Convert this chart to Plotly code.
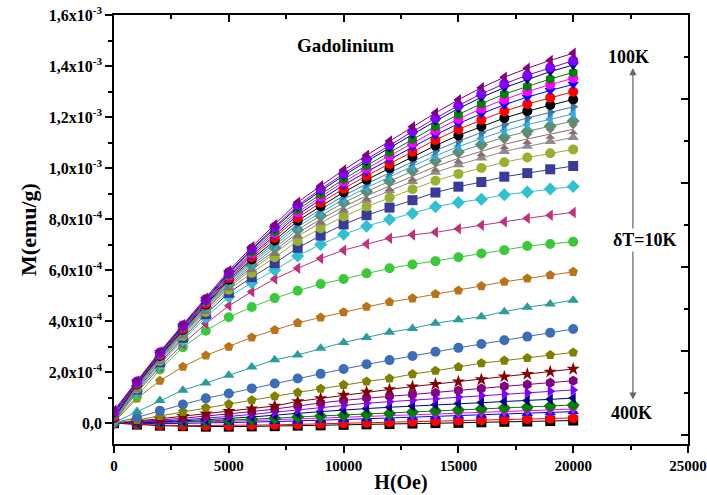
import plotly.graph_objects as go

# Applied field (Oe)
field_oe = [0, 1000, 2000, 3000, 4000, 5000, 6000, 7000, 8000, 9000, 10000,
            11000, 12000, 13000, 14000, 15000, 16000, 17000, 18000, 19000, 20000]

# Magnetization, in units of 1e-4 emu/g, one list per temperature
m_100K = [0.50, 1.65, 2.80, 3.86, 4.90, 5.97, 6.91, 7.78, 8.66, 9.30, 9.92, 10.50, 11.06, 11.62, 12.16, 12.68, 13.15, 13.56, 13.91, 14.22, 14.50]
m_110K = [0.45, 1.63, 2.77, 3.83, 4.86, 5.91, 6.83, 7.68, 8.54, 9.17, 9.78, 10.34, 10.89, 11.43, 11.95, 12.45, 12.91, 13.30, 13.64, 13.94, 14.21]
m_120K = [0.40, 1.62, 2.76, 3.81, 4.83, 5.88, 6.79, 7.62, 8.47, 9.10, 9.70, 10.26, 10.79, 11.32, 11.84, 12.33, 12.77, 13.15, 13.48, 13.78, 14.04]
m_130K = [0.35, 1.59, 2.73, 3.77, 4.79, 5.82, 6.71, 7.52, 8.36, 8.97, 9.56, 10.10, 10.62, 11.13, 11.63, 12.10, 12.52, 12.90, 13.21, 13.49, 13.75]
m_140K = [0.30, 1.58, 2.71, 3.75, 4.76, 5.78, 6.65, 7.45, 8.26, 8.87, 9.45, 9.98, 10.48, 10.98, 11.47, 11.92, 12.33, 12.69, 13.00, 13.27, 13.52]
m_150K = [0.27, 1.56, 2.68, 3.72, 4.73, 5.73, 6.58, 7.36, 8.17, 8.76, 9.33, 9.85, 10.34, 10.82, 11.30, 11.74, 12.13, 12.48, 12.78, 13.04, 13.28]
m_160K = [0.24, 1.53, 2.66, 3.68, 4.68, 5.68, 6.50, 7.27, 8.05, 8.64, 9.19, 9.70, 10.17, 10.64, 11.10, 11.52, 11.89, 12.23, 12.51, 12.76, 12.99]
m_170K = [0.20, 1.51, 2.63, 3.65, 4.64, 5.62, 6.42, 7.16, 7.93, 8.50, 9.05, 9.54, 9.99, 10.44, 10.88, 11.28, 11.63, 11.96, 12.23, 12.47, 12.69]
m_180K = [0.18, 1.49, 2.60, 3.62, 4.60, 5.56, 6.34, 7.06, 7.81, 8.38, 8.91, 9.38, 9.82, 10.25, 10.68, 11.06, 11.39, 11.71, 11.96, 12.19, 12.40]
m_190K = [0.15, 1.47, 2.57, 3.58, 4.56, 5.51, 6.27, 6.97, 7.70, 8.25, 8.77, 9.23, 9.66, 10.07, 10.48, 10.84, 11.16, 11.46, 11.70, 11.92, 12.12]
m_200K = [0.13, 1.45, 2.55, 3.55, 4.52, 5.45, 6.19, 6.87, 7.58, 8.13, 8.64, 9.08, 9.49, 9.89, 10.28, 10.63, 10.92, 11.21, 11.44, 11.65, 11.84]
m_210K = [0.12, 1.42, 2.52, 3.51, 4.47, 5.39, 6.11, 6.76, 7.46, 7.99, 8.48, 8.91, 9.30, 9.68, 10.06, 10.38, 10.66, 10.93, 11.14, 11.34, 11.52]
m_220K = [0.10, 1.40, 2.48, 3.47, 4.43, 5.33, 6.02, 6.66, 7.33, 7.85, 8.33, 8.74, 9.11, 9.47, 9.83, 10.13, 10.39, 10.65, 10.85, 11.04, 11.20]
m_230K = [0.10, 1.36, 2.44, 3.42, 4.36, 5.23, 5.89, 6.50, 7.14, 7.64, 8.10, 8.49, 8.84, 9.17, 9.50, 9.77, 10.00, 10.23, 10.41, 10.58, 10.73]
m_240K = [0.10, 1.31, 2.38, 3.34, 4.27, 5.11, 5.72, 6.27, 6.87, 7.35, 7.79, 8.15, 8.45, 8.74, 9.04, 9.27, 9.45, 9.66, 9.80, 9.95, 10.08]
m_250K = [0.08, 1.25, 2.30, 3.25, 4.15, 4.95, 5.50, 6.00, 6.55, 7.00, 7.40, 7.72, 7.98, 8.22, 8.48, 8.65, 8.78, 8.95, 9.06, 9.18, 9.28]
m_260K = [0.07, 1.20, 2.20, 3.10, 3.90, 4.60, 5.15, 5.65, 6.07, 6.45, 6.78, 7.02, 7.25, 7.38, 7.48, 7.62, 7.76, 7.89, 8.03, 8.15, 8.26]
m_270K = [0.05, 1.05, 2.10, 2.97, 3.62, 4.15, 4.55, 4.90, 5.19, 5.45, 5.65, 5.87, 6.07, 6.22, 6.35, 6.50, 6.65, 6.78, 6.94, 7.02, 7.11]
m_280K = [0.03, 0.97, 1.66, 2.21, 2.65, 2.99, 3.36, 3.65, 3.93, 4.14, 4.35, 4.56, 4.75, 4.89, 5.06, 5.20, 5.37, 5.54, 5.67, 5.80, 5.93]
m_290K = [0.02, 0.45, 0.89, 1.29, 1.57, 1.88, 2.20, 2.48, 2.67, 2.93, 3.16, 3.36, 3.56, 3.71, 3.91, 4.05, 4.17, 4.37, 4.54, 4.67, 4.82]
m_300K = [0.01, 0.22, 0.48, 0.73, 0.97, 1.16, 1.36, 1.55, 1.75, 1.93, 2.12, 2.31, 2.47, 2.63, 2.80, 2.95, 3.10, 3.25, 3.39, 3.54, 3.69]
m_310K = [0.00, 0.12, 0.28, 0.44, 0.60, 0.75, 0.90, 1.05, 1.20, 1.35, 1.50, 1.63, 1.75, 1.92, 2.05, 2.20, 2.35, 2.45, 2.55, 2.67, 2.77]
m_320K = [0.00, 0.08, 0.17, 0.27, 0.37, 0.47, 0.57, 0.67, 0.85, 0.97, 1.10, 1.22, 1.32, 1.43, 1.53, 1.62, 1.71, 1.82, 1.92, 2.01, 2.12]
m_330K = [0.00, 0.05, 0.12, 0.19, 0.27, 0.35, 0.45, 0.55, 0.68, 0.79, 0.89, 0.98, 1.05, 1.12, 1.19, 1.28, 1.36, 1.44, 1.51, 1.58, 1.66]
m_340K = [0.00, 0.03, 0.08, 0.13, 0.19, 0.26, 0.34, 0.43, 0.53, 0.62, 0.70, 0.78, 0.84, 0.90, 0.95, 1.02, 1.08, 1.14, 1.19, 1.25, 1.30]
m_350K = [0.00, 0.02, 0.05, 0.09, 0.13, 0.18, 0.24, 0.30, 0.38, 0.45, 0.52, 0.57, 0.62, 0.67, 0.72, 0.77, 0.81, 0.85, 0.89, 0.93, 0.98]
m_360K = [0.00, 0.01, 0.03, 0.05, 0.08, 0.11, 0.15, 0.19, 0.24, 0.28, 0.31, 0.34, 0.38, 0.43, 0.48, 0.52, 0.56, 0.60, 0.63, 0.67, 0.71]
m_370K = [0.00, 0.01, 0.02, 0.03, 0.05, 0.07, 0.10, 0.13, 0.16, 0.19, 0.22, 0.25, 0.28, 0.31, 0.34, 0.37, 0.41, 0.44, 0.47, 0.51, 0.55]
m_380K = [0.00, -0.02, -0.02, -0.01, 0.00, 0.02, 0.04, 0.06, 0.08, 0.11, 0.14, 0.17, 0.20, 0.23, 0.26, 0.29, 0.32, 0.35, 0.38, 0.41, 0.45]
m_390K = [0.00, -0.05, -0.08, -0.10, -0.10, -0.10, -0.08, -0.07, -0.05, -0.03, -0.01, 0.01, 0.03, 0.05, 0.07, 0.09, 0.11, 0.13, 0.15, 0.17, 0.20]
m_400K = [0.00, -0.06, -0.10, -0.12, -0.14, -0.14, -0.13, -0.12, -0.10, -0.09, -0.07, -0.05, -0.04, -0.02, 0.00, 0.01, 0.03, 0.05, 0.06, 0.08, 0.10]

M_UNIT = 1e-4

temperatures = [400, 390, 380, 370, 360, 350, 340, 330, 320, 310, 300, 290, 280, 270, 260,
                250, 240, 230, 220, 210, 200, 190, 180, 170, 160, 150, 140, 130, 120, 110, 100]
series = [m_400K, m_390K, m_380K, m_370K, m_360K, m_350K, m_340K, m_330K, m_320K, m_310K,
          m_300K, m_290K, m_280K, m_270K, m_260K, m_250K, m_240K, m_230K, m_220K, m_210K,
          m_200K, m_190K, m_180K, m_170K, m_160K, m_150K, m_140K, m_130K, m_120K, m_110K, m_100K]

# tick labels
x_tickvals = [0, 5000, 10000, 15000, 20000, 25000]
x_ticktext = ["0", "5000", "10000", "15000", "20000", "25000"]
y_tickvals = [0, 2e-4, 4e-4, 6e-4, 8e-4, 1.0e-3, 1.2e-3, 1.4e-3, 1.6e-3]
y_ticktext = ["0,0", "2,0x10<sup>-4</sup>", "4,0x10<sup>-4</sup>", "6,0x10<sup>-4</sup>",
              "8,0x10<sup>-4</sup>", "1,0x10<sup>-3</sup>", "1,2x10<sup>-3</sup>",
              "1,4x10<sup>-3</sup>", "1,6x10<sup>-3</sup>"]

# styles (in the same order as temperatures)
colors = ["#000000", "#FF0000", "#0000FF", "#FF00FF", "#008000", "#000080", "#8000FF", "#800080",
          "#800000", "#808000", "#3D6EB4", "#2A9D9A", "#B8741A", "#3CC83C", "#C0307A",
          "#30C0D0", "#3A3A98", "#9AB030", "#8C8C8C", "#8C6E6E", "#5E8E70", "#38A8D8",
          "#3C78A8", "#000000", "#FF0000", "#0000FF", "#FF00FF", "#008000", "#000080",
          "#8000FF", "#800080"]
symbols = ["square", "circle", "triangle-up", "triangle-down", "diamond", "triangle-left",
           "triangle-right", "hexagon", "star", "pentagon", "circle", "triangle-up", "pentagon",
           "circle", "triangle-left", "diamond", "square", "circle", "triangle-up", "hourglass",
           "diamond", "triangle-left", "triangle-right", "circle", "circle", "triangle-down",
           "circle", "hexagon", "triangle-down", "circle", "triangle-left"]

FONT = "Liberation Serif"

fig = go.Figure()
for T, vals, c, s in zip(temperatures, series, colors, symbols):
    fig.add_trace(go.Scatter(
        x=field_oe, y=[v * M_UNIT for v in vals], mode="lines+markers",
        name=f"{T}K", line=dict(color=c, width=1),
        marker=dict(symbol=s, size=10, color=c, line=dict(width=0)),
        showlegend=False, xaxis="x", yaxis="y"))

# invisible trace for the mirrored (top/right) axes
fig.add_trace(go.Scatter(x=[None], y=[None], xaxis="x2", yaxis="y2",
                         showlegend=False, hoverinfo="skip"))

fig.update_layout(
    width=707, height=495,
    margin=dict(l=114, r=19, t=15, b=51, autoexpand=False),
    paper_bgcolor="white", plot_bgcolor="white",
    font=dict(family=FONT, color="black"),
    xaxis=dict(range=[0, 25000], tickmode="array", tickvals=x_tickvals,
               ticktext=["<b>" + t + "</b>" for t in x_ticktext],
               ticks="outside", ticklen=7, tickwidth=1.5, tickcolor="black",
               minor=dict(ticks="outside", tickmode="linear", tick0=0, dtick=2500,
                          ticklen=4, tickwidth=1.5, tickcolor="black"),
               showline=True, linecolor="black", linewidth=1.5,
               showgrid=False, zeroline=False, automargin=False,
               tickfont=dict(family=FONT, size=15, color="black"),
               title=dict(text="<b>H(Oe)</b>", font=dict(family=FONT, size=20), standoff=2)),
    yaxis=dict(range=[-0.82e-4, 1.6e-3], tickmode="array", tickvals=y_tickvals,
               ticktext=["<b>" + t + "</b>" for t in y_ticktext],
               ticks="outside", ticklen=7, tickwidth=1.5, tickcolor="black",
               minor=dict(ticks="outside", tickmode="linear", tick0=0, dtick=1e-4,
                          ticklen=4, tickwidth=1.5, tickcolor="black"),
               showline=True, linecolor="black", linewidth=1.5,
               showgrid=False, zeroline=False, automargin=False,
               tickfont=dict(family=FONT, size=16, color="black"),
               title=dict(text="<b>M(emu/g)</b>", font=dict(family=FONT, size=22), standoff=6)),
    xaxis2=dict(overlaying="x", side="top", range=[0, 25000], tickmode="linear",
                tick0=0, dtick=5000, ticks="inside", ticklen=7, tickwidth=1.5,
                tickcolor="black", showticklabels=False, automargin=False,
                minor=dict(ticks="inside", tickmode="linear", tick0=0, dtick=2500,
                           ticklen=4, tickwidth=1.5, tickcolor="black"),
                showline=True, linecolor="black", linewidth=1.5,
                showgrid=False, zeroline=False),
    yaxis2=dict(overlaying="y", side="right", range=[0.774, 11], tickmode="array",
                tickvals=[1, 3, 5, 7, 9], ticks="inside", ticklen=7, tickwidth=1.5,
                tickcolor="black", showticklabels=False, automargin=False,
                minor=dict(ticks="inside", tickmode="array", tickvals=[2, 4, 6, 8, 10],
                           ticklen=4, tickwidth=1.5, tickcolor="black"),
                showline=True, linecolor="black", linewidth=1.5,
                showgrid=False, zeroline=False),
)

label_font = dict(family=FONT, size=18, color="black")
fig.add_annotation(x=10070, y=1.482e-3, text="<b>Gadolinium</b>", showarrow=False,
                   font=dict(family=FONT, size=19, color="black"), xref="x", yref="y")
fig.add_annotation(x=22430, y=1.435e-3, text="<b>100K</b>", showarrow=False,
                   font=label_font, xref="x", yref="y")
fig.add_annotation(x=22560, y=0.041e-3, text="<b>400K</b>", showarrow=False,
                   font=label_font, xref="x", yref="y")
# arrows
fig.add_annotation(x=22600, y=1.392e-3, ax=22600, ay=0.718e-3, axref="x", ayref="y",
                   xref="x", yref="y", text="", showarrow=True, arrowhead=2,
                   arrowsize=1.2, arrowwidth=1.2, arrowcolor="#666666")
fig.add_annotation(x=22600, y=0.092e-3, ax=22600, ay=0.718e-3, axref="x", ayref="y",
                   xref="x", yref="y", text="", showarrow=True, arrowhead=2,
                   arrowsize=1.2, arrowwidth=1.2, arrowcolor="#666666")
fig.add_annotation(x=23130, y=0.718e-3, text="<b>δT=10K</b>", showarrow=False,
                   font=label_font, bgcolor="white", xref="x", yref="y")

fig.write_html("out.html", config={"displayModeBar": False},
               post_script="document.body.style.margin='0';")
